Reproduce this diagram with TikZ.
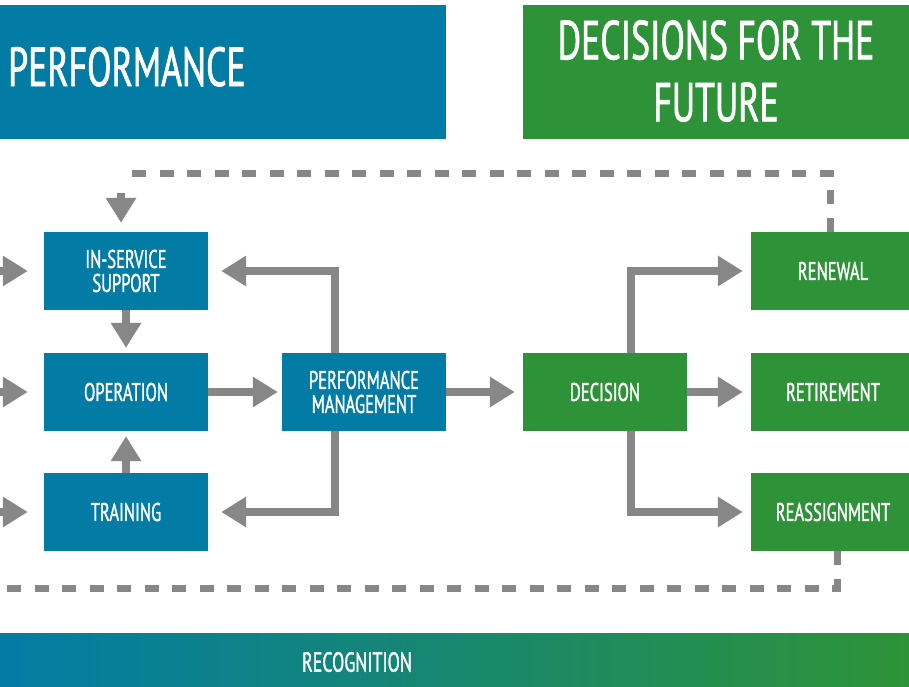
\documentclass[tikz,border=0pt]{standalone}
\usepackage{fontspec}
\setmainfont{PT Sans}[FakeStretch=0.65, FakeBold=1.2]
\usetikzlibrary{arrows.meta}
\definecolor{unblue}{HTML}{027CA5}
\definecolor{ungreen}{HTML}{2E9338}
\definecolor{ungray}{HTML}{878787}
\definecolor{unteal}{HTML}{00876E}
\tikzset{
  box/.style={minimum width=164pt, minimum height=78pt, inner sep=0pt, text=white, align=center, font=\fontsize{25.5}{24}\selectfont},
  bluebox/.style={box, fill=unblue},
  greenbox/.style={box, fill=ungreen},
  flow/.style={draw=ungray, line width=8pt, -{Triangle[length=25pt,width=29pt]}},
  feedback/.style={draw=ungray, line width=7pt, dash pattern=on 14pt off 13.5pt},
}
\begin{document}
\begin{tikzpicture}[x=1pt, y=-1pt]
\useasboundingbox (0,0) rectangle (909,686);
\fill[unblue] (0,5) rectangle (446,139);
\fill[ungreen] (523,5) rectangle (915,139);
\shade[left color=unblue, middle color=unteal, right color=ungreen] (0,633) rectangle (909,690);
\node[anchor=base west, inner sep=0pt, text=white, font=\fontsize{55}{62}\selectfont] (perfhead) at (8,86) {PERFORMANCE};
\node[anchor=north, inner sep=0pt, align=center, text=white, font=\fontsize{55}{62}\selectfont] (dechead) at (716,20) {DECISIONS FOR THE\\FUTURE};
\node[inner sep=0pt, text=white, font=\fontsize{27.5}{27}\selectfont] (recog) at (357,662) {RECOGNITION};

\node[bluebox] (ins) at (126,271) {IN-SERVICE\\SUPPORT};
\node[bluebox] (oper) at (126,392) {OPERATION};
\node[bluebox] (train) at (126,512) {TRAINING};
\node[bluebox] (perf) at (364,392) {PERFORMANCE\\MANAGEMENT};
\node[greenbox] (dec) at (605,392) {DECISION};
\node[greenbox] (renew) at (833,271) {RENEWAL};
\node[greenbox] (retire) at (833,392) {RETIREMENT};
\node[greenbox] (reassign) at (833,512) {REASSIGNMENT};

\coordinate (srcA) at (-6,271);
\coordinate (srcB) at (-6,392);
\coordinate (srcC) at (-6,512);
\coordinate (fbA) at (121,173);
\coordinate (fbB) at (121,193);
\coordinate (fbC) at (-6,588);

\draw[flow, shorten >=16pt] (srcA) -- (ins.west);
\draw[flow, shorten >=16pt] (srcB) -- (oper.west);
\draw[flow, shorten >=16pt] (srcC) -- (train.west);
\draw[flow, shorten >=5pt] (ins.south) -- (oper.north);
\draw[flow, shorten >=5pt] (train.north) -- (oper.south);
\draw[flow, shorten >=4pt] (oper.east) -- (perf.west);
\draw[flow, shorten >=13pt] ([xshift=-29pt]perf.north) |- (ins.east);
\draw[flow, shorten >=13pt] ([xshift=-29pt]perf.south) |- (train.east);
\draw[flow, shorten >=8pt] (perf.east) -- (dec.west);
\draw[flow, shorten >=8pt] ([xshift=26pt]dec.north) |- (renew.west);
\draw[flow, shorten >=8pt] (dec.east) -- (retire.west);
\draw[flow, shorten >=8pt] ([xshift=26pt]dec.south) |- (reassign.west);

\draw[feedback] ([xshift=-3pt]renew.north) |- (fbA);
\draw[flow, shorten >=9pt] (fbB) -- (fbB |- ins.north);
\draw[feedback] ([xshift=4pt]reassign.south) |- (fbC);
\end{tikzpicture}
\end{document}
